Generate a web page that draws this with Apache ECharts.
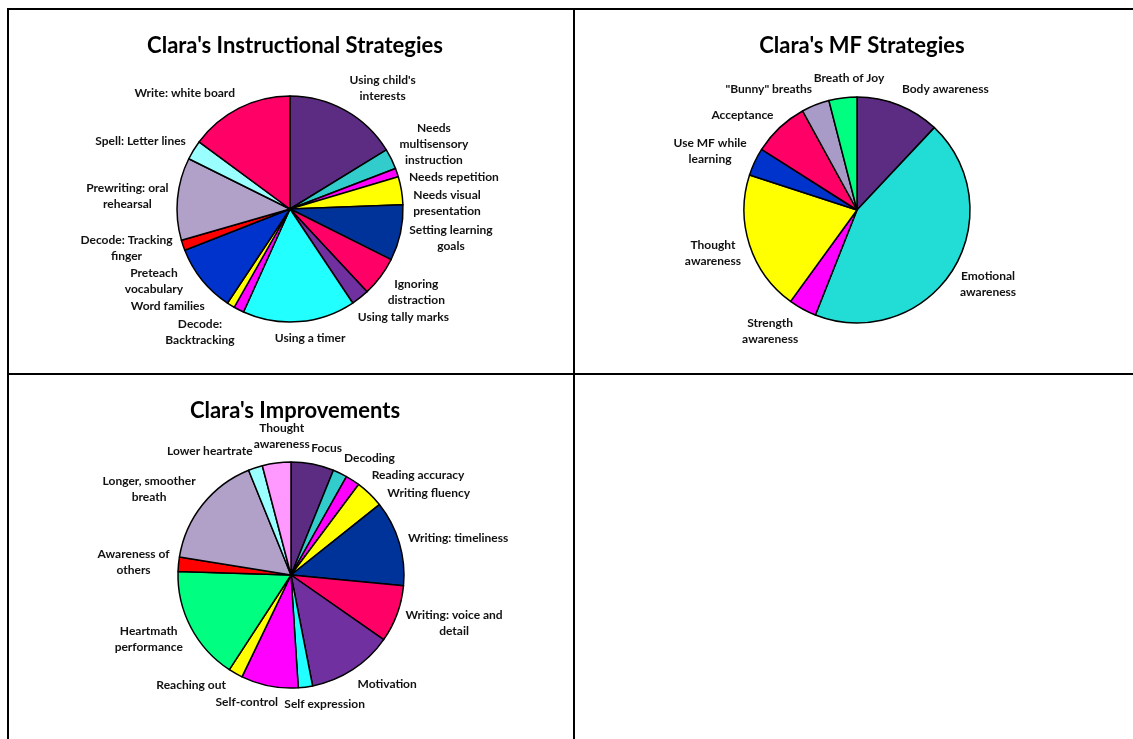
<!DOCTYPE html>
<html>
<head>
<meta charset="utf-8">
<title>Clara's strategies</title>
<script src="https://cdn.jsdelivr.net/npm/echarts@6/dist/echarts.min.js"></script>
<style>
  html, body { margin: 0; padding: 0; background: #fff; }
  #main { width: 1133px; height: 739px; }
</style>
</head>
<body>
<div id="main"></div>
<script>
// Instructional strategies (slice sizes, clockwise from 12 o'clock)
var instrNames = [
  "Using child's\ninterests", "Needs\nmultisensory\ninstruction", "Needs repetition",
  "Needs visual\npresentation", "Setting learning\ngoals", "Ignoring\ndistraction",
  "Using tally marks", "Using a timer", "Decode:\nBacktracking", "Word families",
  "Preteach\nvocabulary", "Decode: Tracking\nfinger", "Prewriting: oral\nrehearsal",
  "Spell: Letter lines", "Write: white board"
];
var instrValues = [58.5, 10.5, 4.4, 14.4, 28.8, 20.4, 9.3, 58, 5.3, 4, 35, 5.3, 42.5, 10, 53.6];
var instrColors = ["#5b2c82", "#33cccc", "#ff00ff", "#ffff00", "#003399", "#ff0066", "#7030a0",
  "#21ffff", "#ff00ff", "#ffff00", "#0033cc", "#ff0000", "#b1a0c7", "#99ffff", "#ff0066"];

// MF strategies
var mfNames = ["Body awareness", "Emotional\nawareness", "Strength\nawareness", "Thought\nawareness",
  "Use MF while\nlearning", "Acceptance", "\"Bunny\" breaths", "Breath of Joy"];
var mfValues = [3, 11, 1, 5, 1, 2, 1, 1];
var mfColors = ["#5b2c82", "#22ddd5", "#ff00ff", "#ffff00", "#0033cc", "#ff0066", "#a99bc8", "#00ff80"];

// Improvements
var impNames = ["Focus", "Decoding", "Reading accuracy", "Writing fluency", "Writing: timeliness",
  "Writing: voice and\ndetail", "Motivation", "Self expression", "Self-control", "Reaching out",
  "Heartmath\nperformance", "Awareness of\nothers", "Longer, smoother\nbreath", "Lower heartrate",
  "Thought\nawareness"];
var impValues = [3, 1, 1, 2, 6, 4, 6, 1, 4, 1, 8, 1, 8, 1, 2];
var impColors = ["#5b2c82", "#33cccc", "#ff00ff", "#ffff00", "#003399", "#ff0066", "#7030a0",
  "#21ffff", "#ff00ff", "#ffff00", "#00ff80", "#ff0000", "#b1a0c7", "#99ffff", "#ff99ff"];

var allValues = [instrValues, mfValues, impValues];

var chart = echarts.init(document.getElementById("main"));
var font = "Lato, 'Open Sans', sans-serif";

// pass 1: remember where echarts puts the rim point of every label and how big it is
var labelInfo = [[], [], []];
function recordLabel(params) {
  labelInfo[params.seriesIndex][params.dataIndex] = {
    pts: params.labelLinePoints,
    w: params.labelRect.width,
    h: params.labelRect.height
  };
  return {};
}

function overlaps(a, b) {
  var pad = 1;
  return a.x1 < b.x2 + pad && b.x1 < a.x2 + pad && a.y1 < b.y2 + pad && b.y1 < a.y2 + pad;
}

// place labels outside the rim like the spreadsheet does, sliding a label
// clockwise along the rim when it would sit on one already placed
function spreadLabels(info, values) {
  var n = info.length;
  var start = values.indexOf(Math.max.apply(null, values));
  var boxes = [];
  var out = [];
  var gap = 9;
  for (var k = 0; k < n; k++) {
    var i = (start + k) % n;
    var it = info[i];
    if (!it || !it.pts) continue;
    var dx = it.pts[1][0] - it.pts[0][0];
    var dy = it.pts[1][1] - it.pts[0][1];
    var len = Math.sqrt(dx * dx + dy * dy) || 1;
    var ux = dx / len, uy = dy / len;
    var px = it.pts[0][0] + ux * gap;
    var py = it.pts[0][1] + uy * gap;
    var fx = Math.max(-1, Math.min(1, ux * 3.5));
    var fy = Math.max(-1, Math.min(1, uy));
    var cx = px + fx * it.w / 2;
    var cy = py + fy * it.h / 2;
    var tx = -uy, ty = ux;
    var best = null;
    for (var t = 0; t <= 80; t++) {
      var x = cx + tx * t, y = cy + ty * t;
      var box = { x1: x - it.w / 2, x2: x + it.w / 2, y1: y - it.h / 2, y2: y + it.h / 2 };
      var hit = boxes.some(function (b) { return overlaps(box, b); });
      if (!hit) { best = box; break; }
    }
    if (!best) best = { x1: cx - it.w / 2, x2: cx + it.w / 2, y1: cy - it.h / 2, y2: cy + it.h / 2 };
    boxes.push(best);
    out[i] = { x: (best.x1 + best.x2) / 2, y: (best.y1 + best.y2) / 2 };
  }
  return out;
}

function toData(names, values, colors) {
  return names.map(function (n, i) {
    return { name: n, value: values[i], itemStyle: { color: colors[i] } };
  });
}

function pieSeries(center, names, values, colors) {
  return {
    type: "pie",
    center: center,
    radius: 113,
    startAngle: 90,
    clockwise: true,
    avoidLabelOverlap: false,
    silent: true,
    itemStyle: { borderColor: "#000", borderWidth: 1.5 },
    label: {
      show: true,
      position: "outside",
      color: "#111",
      fontFamily: font,
      fontWeight: "bold",
      fontSize: 12,
      lineHeight: 16,
      formatter: "{b}"
    },
    labelLine: { show: true, length: 10, length2: 4, lineStyle: { opacity: 0 } },
    labelLayout: recordLabel,
    data: toData(names, values, colors)
  };
}

function gridLine(x1, y1, x2, y2) {
  return {
    type: "line",
    shape: { x1: x1, y1: y1, x2: x2, y2: y2 },
    style: { stroke: "#000", lineWidth: 2 },
    silent: true
  };
}

var titleStyle = { fontFamily: font, fontWeight: "bold", fontSize: 22, color: "#000" };

chart.setOption({
  animation: false,
  backgroundColor: "#fff",
  title: [
    { text: "Clara's Instructional Strategies", left: 290, top: 30, textAlign: "center", textStyle: titleStyle },
    { text: "Clara's MF Strategies", left: 857, top: 30, textAlign: "center", textStyle: titleStyle },
    { text: "Clara's Improvements", left: 290, top: 395, textAlign: "center", textStyle: titleStyle }
  ],
  graphic: [
    gridLine(7, 9, 1133, 9),
    gridLine(8, 8, 8, 739),
    gridLine(574, 8, 574, 739),
    gridLine(7, 374, 1133, 374)
  ],
  series: [
    pieSeries([290, 209], instrNames, instrValues, instrColors),
    pieSeries([857, 210], mfNames, mfValues, mfColors),
    pieSeries([291, 575], impNames, impValues, impColors)
  ]
});

// pass 2: put the labels where spreadLabels wants them
var placedLabels = labelInfo.map(function (info, s) { return spreadLabels(info, allValues[s]); });
chart.setOption({
  series: placedLabels.map(function (placed) {
    return {
      labelLayout: function (params) {
        var p = placed[params.dataIndex];
        if (!p) return {};
        return { x: p.x, y: p.y, align: "center", verticalAlign: "middle" };
      }
    };
  })
});
</script>
</body>
</html>
